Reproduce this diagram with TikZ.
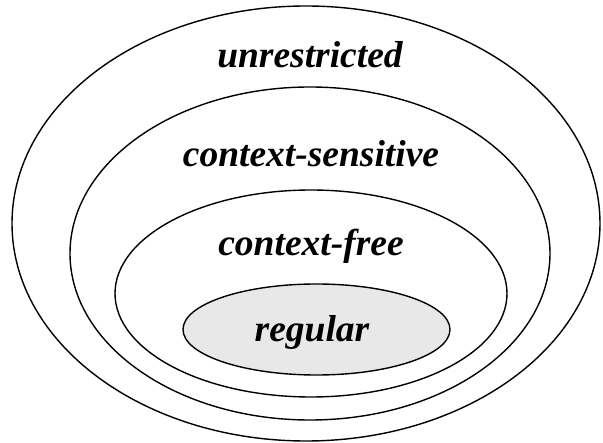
\documentclass[tikz,border=0pt]{standalone}
\usepackage{fontspec}
\setmainfont{Liberation Serif}
\usetikzlibrary{shapes.geometric}
\begin{document}
\begin{tikzpicture}[x=1pt,y=-1pt,
  region/.style={ellipse, draw=black, line width=1.4pt, inner sep=0pt},
  langname/.style={anchor=base, inner sep=0pt,
    font=\fontsize{37.5}{40}\selectfont\bfseries\itshape}]
  \useasboundingbox (0,0) rectangle (603,443);
  % nested language classes, outermost first
  \node[region, minimum width=588pt, minimum height=435pt] (unr) at (306,223.5) {};
  \node[region, minimum width=480pt, minimum height=333pt] (cs)  at (310,253.5) {};
  \node[region, minimum width=392pt, minimum height=207pt] (cf)  at (311,293.5) {};
  \node[region, fill=black!9, minimum width=267pt, minimum height=91pt] (reg) at (316.5,329.5) {};
  % class names
  \node[langname] (unrlabel) at (310,68)  {unrestricted};
  \node[langname] (cslabel)  at (311,167) {context-sensitive};
  \node[langname] (cflabel)  at (311,256) {context-free};
  \node[langname] (reglabel) at (312,342) {regular};
\end{tikzpicture}
\end{document}
